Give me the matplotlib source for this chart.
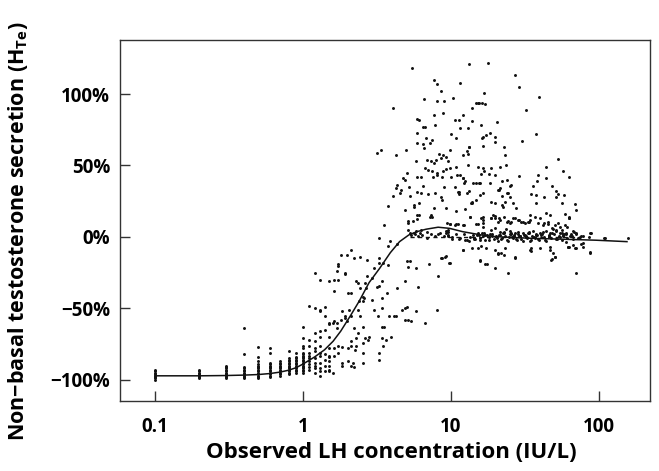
import numpy as np
import matplotlib
matplotlib.use("Agg")
import matplotlib.pyplot as plt

plt.rcParams['font.family'] = ['Open Sans', 'DejaVu Sans']
plt.rcParams['font.weight'] = 'bold'
plt.rcParams['mathtext.fontset'] = 'custom'
plt.rcParams['mathtext.bf'] = 'Open Sans:bold'
plt.rcParams['mathtext.rm'] = 'Open Sans:bold'

# LH measured at discrete low values (IU/L) -> stacked columns of points (%)
col_lh = [0.1, 0.2, 0.3, 0.4, 0.5, 0.6, 0.7, 0.8, 0.9, 1.0, 1.1, 1.2, 1.3, 1.4, 1.5]
col_vals = [
    [-93, -94, -95, -96, -97, -98, -99, -100],
    [-93, -94, -95, -96, -97, -98, -99],
    [-90, -91, -92, -93, -94, -95, -96, -97, -98, -99],
    [-64, -82, -91, -92, -93, -94, -95, -96, -97, -98, -99],
    [-77, -84, -87, -89, -90, -91, -92, -93, -94, -95, -96, -97, -98, -99],
    [-78, -81, -88, -89, -90, -91, -92, -93, -94, -95, -96, -97, -98],
    [-87, -88, -89, -90, -91, -92, -93, -94, -95, -96, -97],
    [-80, -85, -86, -87, -88, -89, -90, -91, -92, -93, -94, -95, -96],
    [-81, -84, -85, -86, -87, -88, -89, -90, -91, -92, -93, -94, -95],
    [-63, -71, -76, -78, -81, -82, -83, -84, -85, -86, -87, -88, -89, -90, -91, -92, -93, -94, -95],
    [-48, -72, -76, -81, -83, -85, -87, -89, -91, -93],
    [-25, -50, -67, -73, -78, -80, -85, -88, -90, -92, -95],
    [-30, -51, -52, -66, -70, -76, -81, -83, -88, -92, -94, -97],
    [-49, -55, -65, -82, -86, -90, -94],
    [-31, -60, -61, -70, -78, -83, -84, -87, -90, -93, -94],
]

# rising part (LH 1.6 - 10, below zero)
rise_lh = [
    1.6, 1.6, 1.62, 1.62, 1.63, 1.63, 1.63, 1.7, 1.7, 1.7, 1.72, 1.72, 1.73, 1.73, 1.73,
    1.8, 1.8, 1.83, 1.83, 1.83, 1.83, 1.92, 1.92, 1.92, 1.92, 2.0, 2.0, 2.01, 2.02, 2.02,
    2.05, 2.11, 2.11, 2.13, 2.13, 2.13, 2.13, 2.19, 2.2, 2.22, 2.22, 2.25, 2.28, 2.28,
    2.3, 2.34, 2.34, 2.37, 2.39, 2.43, 2.43, 2.43, 2.53, 2.53, 2.53, 2.53, 2.56, 2.56,
    2.6, 2.62, 2.62, 2.66, 2.73, 2.73, 2.76, 2.8, 2.95, 2.95, 3.03, 3.03, 3.17, 3.23,
    3.25, 3.26, 3.25, 3.28, 3.28, 3.28, 3.4, 3.45, 3.45, 3.45, 3.45, 3.47, 3.49, 3.54,
    3.64, 3.68, 3.75, 3.75, 3.83, 3.87, 3.97, 4.12, 4.25, 4.3, 4.34, 4.67, 4.88, 4.88,
    4.88, 5.06, 5.06, 5.15, 5.15, 5.28, 5.4, 5.8, 5.8, 6.0, 6.7, 7.1, 8.1, 8.2, 8.7,
    9.2, 9.8,
]
rise_pct = [
    -60, -95, -59, -78, -83, -38, -30, -60, -64, -24, -19, -30, -76, -81, -20,
    -12.6, -58, -77, -88, -90, -52, -25, -26, -55, -57, -12.6, -59, -39, -78, -87,
    -51, -9, -90, -39, -55, -73, -76, -88, -15, -64, -91, -79, -71, -76,
    -31, -32, -51, -67, -45, -14, -36, -55, -45, -74, -81, -88, -42, -63,
    -43, -32, -71, -36, -16, -27, -72, -70, -29, -44, -22, -51, -35, -55,
    -0.5, -18, -15, -34, -81, -86, -63, -31, -43, -50, -71, -18, -76, -63,
    -72, -39, -6, -19.6, -55, -3, -70, -55, -55, -36, -5, -51, -31, -50,
    -58, -17, -49, -21, -58, -17, -59, -22, -52, -35, -60, -19, -51, -27, -15,
    -13, -18,
]

# upper cloud (positive secretion)
high_lh = [
    3.15, 3.35, 3.55, 3.77, 4.07, 4.07, 4.25, 4.27, 4.34, 4.52, 4.58, 4.76, 4.88, 4.88,
    4.97, 5.06, 5.1, 5.1, 5.15, 5.2, 5.28, 5.3, 5.43, 5.56, 5.6, 5.6, 5.6, 5.8, 5.85,
    5.9, 5.9, 5.9, 5.9, 5.95, 5.95, 5.95, 6.1, 6.1, 6.1, 6.2, 6.3, 6.3, 6.3, 6.45, 6.5,
    6.5, 6.6, 6.6, 6.7, 6.7, 6.8, 6.85, 6.85, 7.0, 7.0, 7.2, 7.2, 7.3, 7.3, 7.4, 7.4,
    7.5, 7.6, 7.7, 7.7, 7.7, 7.7, 7.8, 7.8, 7.9, 8.0, 8.0, 8.1, 8.1, 8.3, 8.55, 8.6,
    8.6, 8.65, 8.7, 8.8, 8.8, 8.8, 9.0, 9.0, 9.2, 9.2, 9.3, 9.4, 9.6, 9.6, 9.6, 9.8,
    9.8, 9.9, 10.1, 10.1, 10.4, 10.6, 10.6, 10.8, 10.8, 10.8, 10.8, 11.0, 11.2, 11.3,
    11.3, 11.4, 11.5, 11.5, 11.5, 12.0, 12.0, 12.1, 12.1, 12.1, 12.2, 12.4, 12.4, 12.8,
    12.8, 13.1, 13.1, 13.1, 13.2, 13.3, 13.3, 13.3, 13.4, 13.6, 13.8, 14.0, 14.0, 14.0,
    14.1, 14.9, 14.9, 14.9, 14.9, 15.3, 15.3, 15.3, 15.4, 15.4, 15.7, 15.7, 15.9, 16.1,
    16.3, 16.3, 16.4, 16.5, 16.5, 16.5, 16.5, 16.5, 16.5, 16.5, 16.7, 16.8, 17.0, 17.2,
    17.7, 18.2, 18.3, 18.5, 18.8, 18.8, 18.8, 19.2, 19.8, 19.8, 20.0, 20.0, 20.0, 20.5,
    20.8, 20.8, 21.2, 21.4, 21.4, 21.4, 22.0, 22.0, 22.0, 22.6, 22.7, 23.1, 23.2, 23.7,
    23.8, 23.8, 23.8, 24.4, 25.0, 25.0, 25.0, 25.4, 26.3, 27.0, 27.1, 27.5, 28.8, 29.0,
    29.0, 30.0, 30.3, 31.6, 32.1, 34.0, 34.2, 35.0, 36.0, 37.8, 37.8, 37.8, 38.3, 38.9,
    38.9, 39.5, 41.8, 42.6, 43.9, 44.0, 44.0, 45.5, 46.6, 47.9, 48.0, 51.0, 51.5, 51.5,
    53.0, 53.0, 55.0, 56.0, 56.0, 56.0, 57.0, 57.0, 58.0, 58.7, 60.0, 61.0, 62.5, 63.0,
    63.0, 67.5, 68.7, 70.6, 89.0,
    13.4, 16.1, 18.8, 19.8, 21.2, 22.9, 24.4, 25.6, 26.3, 28.3, 30.5, 33.0, 34.2, 37.0,
    40.0, 42.5, 45.5, 50.3, 53.0, 58.7, 63.0,
]
high_pct = [
    58.5, 61, 8.4, 21.5, 90, 28.5, 34.5, 57, 36, 30.5, 33, 41, 40, 18.5,
    61, 44.5, 10, 5, 11, 35, 28.5, 3, 118, 11, 22.5, 21, 3, 53, 4,
    82.5, 31.5, 12.4, 15, 73, 66, 42, 82, 24, 15.4, 3, 5, 42, 30.5, 65, 77,
    35.5, 96.5, 62, 77, 48, 69, 54, 3.7, 47, 30, 66, 14, 53, 15.4, 46, 14,
    68, 42, 110, 85, 52, 20.5, 78, 31, 54, 95, 44.5, 107, 43, 58, 28, 102,
    55, 42, 26, 87, 57, 46, 95, 35, 56, 20.5, 47.5, 10, 53, 5, 3.7, 48,
    9, 61, 72, 42, 97, 82, 35, 69, 49, 18, 9, 43, 31.7, 82,
    30, 31.5, 108, 76, 43, 85, 41, 57, 41.5, 8.4, 38, 39, 19.4, 60,
    30.5, 76, 58, 50, 63, 121, 63, 32, 14, 24, 23.5, 90, 81, 24.7,
    37.5, 94, 37.5, 26, 9, 94, 49, 9, 93.5, 38, 37.5, 29.4, 44, 78,
    93.5, 69, 14, 63.6, 48.5, 30.5, 70, 12, 9.6, 7.2, 46, 100.5, 93, 71,
    122, 44, 38, 73, 48, 24.7, 13, 15.4, 43, 66.7, 70, 24, 13.5, 80.6,
    10.7, 33, 33, 49, 34, 12, 39, 22.4, 28.7, 21, 63, 57, 24.7, 50,
    40, 30.5, 10.7, 31, 35.7, 28, 10, 36, 23.5, 13.5, 113, 20, 42.5, 105,
    12, 10.7, 67, 10, 89, 10.7, 15.4, 30, 35.7, 72, 29.4, 23.5, 39, 43,
    9.6, 98, 8.4, 28, 41.5, 49, 16.5, 9.1, 15.4, 35.7, 6, 32, 27.8, 5,
    54.5, 30, 7.2, 24, 5, 3, 46, 1.4, 29.4, 16, 3, 6.8, 13, 42,
    13.8, 3.7, 22.9, 19, 2.6,
    14.2, 13.5, 13, 14.7, 13.5, 14.2, 11.2, 10.7, 13.5, 12, 10.7, 10.7, 12, 14.2,
    13, 9.6, 10.7, 8.4, 9.6, 8.4, 13.5,
]

# points just below the plateau
dip_lh = [
    8.6, 9.1, 9.7, 12.0, 12.1, 14.0, 15.3, 15.7, 15.7, 16.1, 17.0, 17.2, 17.6, 19.8,
    19.8, 20.8, 20.9, 21.9, 22.7, 23.2, 24.4, 27.0, 27.0, 34.2, 34.8, 35.0, 40.0, 46.6,
    46.6, 47.8, 47.9, 49.0, 50.3, 50.8, 62.0, 62.2, 63.0, 67.0, 68.7, 70.6, 70.6, 76.2,
    78.0, 78.0, 87.0, 87.0,
]
dip_pct = [
    -14.9, -13.7, -18, -9.1, -9, -8, -8, -16.5, -16, -6.6, -19, -8, -19, -22,
    -9, -11, -12.1, -11.4, -12.6, -8, -25, -14, -14.5, -9, -7.5, -10, -7.5, -9,
    -6.7, -16, -15.6, -11.4, -14, -13.8, -6.8, -6.7, -7, -5.6, -7.5, -25, -8, -5.1,
    -4, -6.7, -11, -10.7,
]

# dense band around zero
band_lh = [
    9.3, 9.85, 10.7, 11.2, 12.3, 9.2, 11.4, 12.5, 13.2, 14.4, 15.7, 15.0, 16.3, 17.0,
    18.4, 18.8, 19.9, 21.4, 22.9, 23.6, 25.1, 25.6, 26.9, 28.5, 29.3, 30.6, 32.2, 33.8,
    36.0, 37.9, 39.9, 41.7, 44.0, 46.6, 48.9, 51.2, 54.5, 57.2, 60.1, 65.4, 66.8, 70.0,
    74.4, 78.0, 86.9, 109.0, 158.0, 76.0, 86.0, 110.0,
    5.4, 5.7, 6.0, 6.4, 6.9, 7.3, 7.8, 8.2, 8.4, 9.0, 9.6, 10.2,
    9.5, 10.2, 10.9, 11.6, 12.3, 12.9, 13.5, 14.1, 14.6, 15.2, 15.8, 16.4, 17.0, 17.6,
    18.2, 18.9, 19.5, 20.1, 20.8, 21.5, 22.2, 23.0, 23.8, 24.6, 25.4, 26.2, 27.1, 28.0,
    29.0, 30.0, 31.0, 32.0, 33.2, 34.4, 35.6, 36.8, 38.0, 39.5, 41.0, 42.5, 44.0, 45.8,
    47.5, 49.5, 51.5, 53.5, 56.0, 58.5, 61.0, 64.0, 67.0, 70.0, 73.0,
    14.3, 15.5, 16.8, 18.0, 19.0, 20.4, 21.0, 21.8, 22.6, 23.4, 24.2, 25.0, 25.8, 26.6,
    27.5, 28.5, 29.5, 30.5, 31.5, 32.6, 33.8, 35.0, 36.2, 37.4, 39.0, 40.5, 43.0, 46.0,
    48.5, 52.5, 55.0, 60.0, 65.0, 72.0,
]
band_pct = [
    4.2, 8.9, 8.4, 8.9, 8.4, 2.6, -1.4, -2.1, -2.8, -1.4, -2.1, 1.4, 2.6, 1.4,
    1.9, 4.9, 6.1, 3.7, 3.3, 5.6, 4.2, 2.6, 1.4, 3.7, 0.9, 2.6, 0.9, 3.3,
    4.2, 1.4, 2.6, 3.7, 4.2, 2.6, 5.6, 4.2, 2.6, 0.9, 1.9, 0.9, 4.2, 2.6,
    0.2, 0.9, 2.6, -0.5, -0.5, 0.7, -0.2, -0.5,
    1.5, 2.0, 0.5, 1.2, -0.8, 2.2, 0.6, 1.8, 2.5, 0.8, 1.6, 0.3,
    0.8, -1.2, 1.9, -0.4, 2.4, -2.1, 0.3, 1.1, -1.6, 2.8, -0.9, 0.5, -2.4, 1.7,
    -0.3, 2.2, -1.1, 0.6, -2.7, 1.4, -0.6, 2.9, -1.8, 0.2, 1.9, -0.8, 2.5, -2.2,
    0.9, -1.4, 1.6, -0.2, 2.6, -2.5, 0.4, -1.0, 1.2, -1.9, 2.1, 0.0, -2.8, 1.5,
    -0.7, 2.3, -1.5, 0.8, -2.0, 1.8, -0.4, 1.0, -1.3, 2.0, -0.6,
    -1.0, 1.3, 2.7, -2.3, 0.9, -0.6, 1.7, -1.7, 3.1, 0.4, -2.9, 2.0, -0.1, 1.0,
    -1.3, 2.4, 0.6, -2.6, 1.5, -0.8, 3.0, -1.9, 0.2, 2.2, -1.1, 1.1, -2.4, 0.7,
    2.9, -1.5, 0.3, -3.2, 1.9, -0.9,
]

# fitted model curve
fit_lh = [0.1, 0.2, 0.3, 0.4, 0.5, 0.6, 0.7, 0.8, 0.9, 1.0, 1.2, 1.4, 1.6, 1.8, 2.1,
          2.4, 2.8, 3.3, 3.9, 4.5, 5.2, 5.9, 6.8, 8.2, 9.8, 12, 16, 20, 34, 57, 96, 155]
fit_pct = [-97.2, -97.2, -97, -96.7, -96.3, -95.6, -94.6, -93.3, -91.5, -89, -84, -79,
           -73, -66, -55, -45, -32, -22, -11, -3.3, 1.4, 3.7, 5.4, 6.8, 6, 3.7, 1.4,
           0.2, -0.9, -1.6, -2.3, -3.3]

# reference (zero) line
ref_lh = [5.3, 75]
ref_pct = [0, 0]

xticks = [0.1, 1, 10, 100]
xtick_labels = ['0.1', '1', '10', '100']
yticks = [-100, -50, 0, 50, 100]
ytick_labels = ['\u2212100%', '\u221250%', '0%', '50%', '100%']

fig = plt.figure(figsize=(6.59, 4.71), dpi=100)
ax = fig.add_axes([0.182, 0.149, 0.804, 0.766])

col_x = np.concatenate([[lh] * len(v) for lh, v in zip(col_lh, col_vals)])
col_y = np.concatenate(col_vals)
dot = dict(s=4.5, color='#111111', linewidths=0, zorder=2)
ax.scatter(col_x, col_y, **dot)
for xs, ys in [(rise_lh, rise_pct), (high_lh, high_pct), (dip_lh, dip_pct), (band_lh, band_pct)]:
    ax.scatter(xs, ys, **dot)

ax.plot(fit_lh, fit_pct, color='#111111', lw=1.1, zorder=3)
ax.plot(ref_lh, ref_pct, color='#111111', lw=1.0, dashes=(3, 2.5), zorder=3)

ax.set_xscale('log')
ax.set_xlim(0.058, 221)
ax.set_ylim(-114.7, 137.8)
ax.set_xticks(xticks)
ax.set_xticklabels(xtick_labels)
ax.minorticks_off()
ax.set_yticks(yticks)
ax.set_yticklabels(ytick_labels)

ax.tick_params(direction='in', length=7, width=1, labelsize=13.5, pad=7, color='#333333')
ax.tick_params(axis='x', pad=12)
for sp in ax.spines.values():
    sp.set_linewidth(1)
    sp.set_color('#333333')

ax.set_xlabel('Observed LH concentration (IU/L)', fontsize=16, fontweight='bold', labelpad=3)
ax.xaxis.set_label_coords(0.513, -0.115)
ax.set_ylabel(r'Non$-$basal testosterone secretion (H$_{\mathbf{Te}}$)', fontsize=15.5,
              fontweight='bold')
ax.yaxis.set_label_coords(-0.17, 0.47)

fig.savefig('out.png', dpi=100)
